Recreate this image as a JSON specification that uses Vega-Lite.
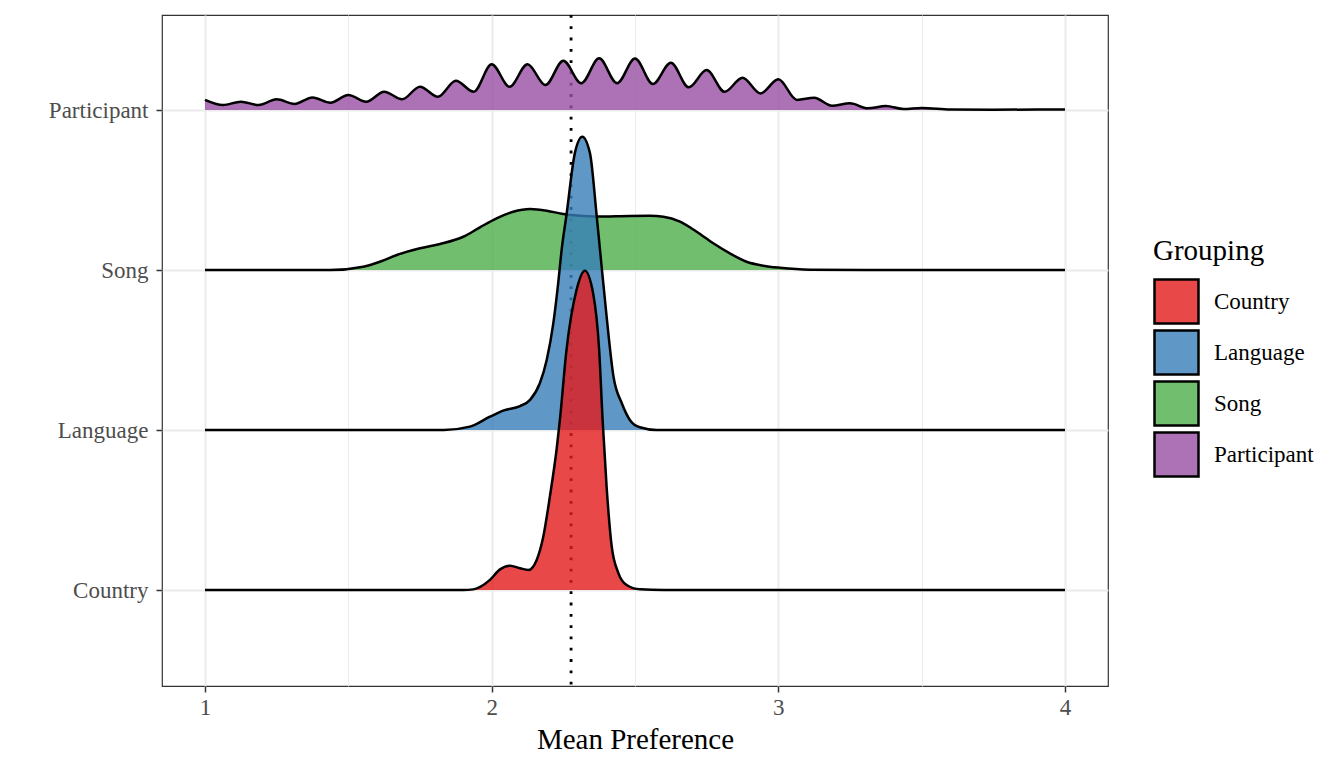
{
  "$schema": "https://vega.github.io/schema/vega-lite/v6.json",
  "autosize": {"type": "none"},
  "width": 946,
  "height": 671,
  "padding": {"left": 162, "top": 15, "right": 236, "bottom": 82},
  "background": "white",
  "config": {
    "view": {"stroke": "#333333", "strokeWidth": 1.2},
    "font": "Liberation Serif",
    "axis": {"domain": false, "labelFont": "Liberation Serif", "titleFont": "Liberation Serif"},
    "legend": {"labelFont": "Liberation Serif", "titleFont": "Liberation Serif"}
  },
  "datasets": {
    "ridges": [
      {"Grouping": "Country", "Mean Preference": 1.0, "Density": 1.0},
      {"Grouping": "Country", "Mean Preference": 1.9, "Density": 1.0},
      {"Grouping": "Country", "Mean Preference": 1.936, "Density": 1.004},
      {"Grouping": "Country", "Mean Preference": 1.994, "Density": 1.063},
      {"Grouping": "Country", "Mean Preference": 2.029, "Density": 1.129},
      {"Grouping": "Country", "Mean Preference": 2.064, "Density": 1.152},
      {"Grouping": "Country", "Mean Preference": 2.099, "Density": 1.136},
      {"Grouping": "Country", "Mean Preference": 2.128, "Density": 1.125},
      {"Grouping": "Country", "Mean Preference": 2.157, "Density": 1.188},
      {"Grouping": "Country", "Mean Preference": 2.18, "Density": 1.333},
      {"Grouping": "Country", "Mean Preference": 2.203, "Density": 1.583},
      {"Grouping": "Country", "Mean Preference": 2.227, "Density": 1.886},
      {"Grouping": "Country", "Mean Preference": 2.238, "Density": 2.063},
      {"Grouping": "Country", "Mean Preference": 2.261, "Density": 2.5},
      {"Grouping": "Country", "Mean Preference": 2.296, "Density": 2.875},
      {"Grouping": "Country", "Mean Preference": 2.325, "Density": 2.996},
      {"Grouping": "Country", "Mean Preference": 2.354, "Density": 2.854},
      {"Grouping": "Country", "Mean Preference": 2.375, "Density": 2.5},
      {"Grouping": "Country", "Mean Preference": 2.387, "Density": 2.063},
      {"Grouping": "Country", "Mean Preference": 2.401, "Density": 1.644},
      {"Grouping": "Country", "Mean Preference": 2.419, "Density": 1.269},
      {"Grouping": "Country", "Mean Preference": 2.442, "Density": 1.106},
      {"Grouping": "Country", "Mean Preference": 2.471, "Density": 1.031},
      {"Grouping": "Country", "Mean Preference": 2.517, "Density": 1.004},
      {"Grouping": "Country", "Mean Preference": 2.6, "Density": 1.0},
      {"Grouping": "Country", "Mean Preference": 4.0, "Density": 1.0},

      {"Grouping": "Language", "Mean Preference": 1.0, "Density": 2.0},
      {"Grouping": "Language", "Mean Preference": 1.834, "Density": 2.0},
      {"Grouping": "Language", "Mean Preference": 1.924, "Density": 2.021},
      {"Grouping": "Language", "Mean Preference": 1.994, "Density": 2.083},
      {"Grouping": "Language", "Mean Preference": 2.04, "Density": 2.121},
      {"Grouping": "Language", "Mean Preference": 2.099, "Density": 2.15},
      {"Grouping": "Language", "Mean Preference": 2.134, "Density": 2.188},
      {"Grouping": "Language", "Mean Preference": 2.168, "Density": 2.292},
      {"Grouping": "Language", "Mean Preference": 2.192, "Density": 2.438},
      {"Grouping": "Language", "Mean Preference": 2.215, "Density": 2.667},
      {"Grouping": "Language", "Mean Preference": 2.232, "Density": 2.917},
      {"Grouping": "Language", "Mean Preference": 2.244, "Density": 3.125},
      {"Grouping": "Language", "Mean Preference": 2.261, "Density": 3.344},
      {"Grouping": "Language", "Mean Preference": 2.29, "Density": 3.729},
      {"Grouping": "Language", "Mean Preference": 2.316, "Density": 3.833},
      {"Grouping": "Language", "Mean Preference": 2.343, "Density": 3.729},
      {"Grouping": "Language", "Mean Preference": 2.366, "Density": 3.344},
      {"Grouping": "Language", "Mean Preference": 2.378, "Density": 3.125},
      {"Grouping": "Language", "Mean Preference": 2.401, "Density": 2.708},
      {"Grouping": "Language", "Mean Preference": 2.425, "Density": 2.333},
      {"Grouping": "Language", "Mean Preference": 2.454, "Density": 2.167},
      {"Grouping": "Language", "Mean Preference": 2.482, "Density": 2.063},
      {"Grouping": "Language", "Mean Preference": 2.517, "Density": 2.017},
      {"Grouping": "Language", "Mean Preference": 2.575, "Density": 2.0},
      {"Grouping": "Language", "Mean Preference": 4.0, "Density": 2.0},

      {"Grouping": "Song", "Mean Preference": 1.0, "Density": 3.0},
      {"Grouping": "Song", "Mean Preference": 1.436, "Density": 3.0},
      {"Grouping": "Song", "Mean Preference": 1.552, "Density": 3.021},
      {"Grouping": "Song", "Mean Preference": 1.61, "Density": 3.052},
      {"Grouping": "Song", "Mean Preference": 1.669, "Density": 3.094},
      {"Grouping": "Song", "Mean Preference": 1.75, "Density": 3.136},
      {"Grouping": "Song", "Mean Preference": 1.82, "Density": 3.163},
      {"Grouping": "Song", "Mean Preference": 1.901, "Density": 3.208},
      {"Grouping": "Song", "Mean Preference": 1.959, "Density": 3.267},
      {"Grouping": "Song", "Mean Preference": 2.017, "Density": 3.323},
      {"Grouping": "Song", "Mean Preference": 2.075, "Density": 3.364},
      {"Grouping": "Song", "Mean Preference": 2.134, "Density": 3.381},
      {"Grouping": "Song", "Mean Preference": 2.192, "Density": 3.371},
      {"Grouping": "Song", "Mean Preference": 2.25, "Density": 3.35},
      {"Grouping": "Song", "Mean Preference": 2.308, "Density": 3.339},
      {"Grouping": "Song", "Mean Preference": 2.366, "Density": 3.334},
      {"Grouping": "Song", "Mean Preference": 2.482, "Density": 3.338},
      {"Grouping": "Song", "Mean Preference": 2.552, "Density": 3.339},
      {"Grouping": "Song", "Mean Preference": 2.599, "Density": 3.333},
      {"Grouping": "Song", "Mean Preference": 2.657, "Density": 3.302},
      {"Grouping": "Song", "Mean Preference": 2.715, "Density": 3.239},
      {"Grouping": "Song", "Mean Preference": 2.773, "Density": 3.167},
      {"Grouping": "Song", "Mean Preference": 2.831, "Density": 3.104},
      {"Grouping": "Song", "Mean Preference": 2.889, "Density": 3.052},
      {"Grouping": "Song", "Mean Preference": 2.948, "Density": 3.027},
      {"Grouping": "Song", "Mean Preference": 3.006, "Density": 3.014},
      {"Grouping": "Song", "Mean Preference": 3.11, "Density": 3.002},
      {"Grouping": "Song", "Mean Preference": 3.3, "Density": 3.0},
      {"Grouping": "Song", "Mean Preference": 4.0, "Density": 3.0},

      {"Grouping": "Participant", "Mean Preference": 1.0, "Density": 4.063},
      {"Grouping": "Participant", "Mean Preference": 1.0625, "Density": 4.031},
      {"Grouping": "Participant", "Mean Preference": 1.125, "Density": 4.052},
      {"Grouping": "Participant", "Mean Preference": 1.1875, "Density": 4.031},
      {"Grouping": "Participant", "Mean Preference": 1.25, "Density": 4.067},
      {"Grouping": "Participant", "Mean Preference": 1.3125, "Density": 4.038},
      {"Grouping": "Participant", "Mean Preference": 1.375, "Density": 4.079},
      {"Grouping": "Participant", "Mean Preference": 1.4375, "Density": 4.046},
      {"Grouping": "Participant", "Mean Preference": 1.5, "Density": 4.094},
      {"Grouping": "Participant", "Mean Preference": 1.5625, "Density": 4.052},
      {"Grouping": "Participant", "Mean Preference": 1.625, "Density": 4.114},
      {"Grouping": "Participant", "Mean Preference": 1.6875, "Density": 4.067},
      {"Grouping": "Participant", "Mean Preference": 1.75, "Density": 4.146},
      {"Grouping": "Participant", "Mean Preference": 1.8125, "Density": 4.083},
      {"Grouping": "Participant", "Mean Preference": 1.875, "Density": 4.183},
      {"Grouping": "Participant", "Mean Preference": 1.9375, "Density": 4.114},
      {"Grouping": "Participant", "Mean Preference": 2.0, "Density": 4.286},
      {"Grouping": "Participant", "Mean Preference": 2.0625, "Density": 4.146},
      {"Grouping": "Participant", "Mean Preference": 2.125, "Density": 4.286},
      {"Grouping": "Participant", "Mean Preference": 2.1875, "Density": 4.156},
      {"Grouping": "Participant", "Mean Preference": 2.25, "Density": 4.308},
      {"Grouping": "Participant", "Mean Preference": 2.3125, "Density": 4.167},
      {"Grouping": "Participant", "Mean Preference": 2.375, "Density": 4.323},
      {"Grouping": "Participant", "Mean Preference": 2.4375, "Density": 4.167},
      {"Grouping": "Participant", "Mean Preference": 2.5, "Density": 4.322},
      {"Grouping": "Participant", "Mean Preference": 2.5625, "Density": 4.163},
      {"Grouping": "Participant", "Mean Preference": 2.625, "Density": 4.296},
      {"Grouping": "Participant", "Mean Preference": 2.6875, "Density": 4.142},
      {"Grouping": "Participant", "Mean Preference": 2.75, "Density": 4.25},
      {"Grouping": "Participant", "Mean Preference": 2.8125, "Density": 4.114},
      {"Grouping": "Participant", "Mean Preference": 2.875, "Density": 4.202},
      {"Grouping": "Participant", "Mean Preference": 2.9375, "Density": 4.104},
      {"Grouping": "Participant", "Mean Preference": 3.0, "Density": 4.192},
      {"Grouping": "Participant", "Mean Preference": 3.065, "Density": 4.063},
      {"Grouping": "Participant", "Mean Preference": 3.125, "Density": 4.077},
      {"Grouping": "Participant", "Mean Preference": 3.1875, "Density": 4.027},
      {"Grouping": "Participant", "Mean Preference": 3.25, "Density": 4.042},
      {"Grouping": "Participant", "Mean Preference": 3.3125, "Density": 4.011},
      {"Grouping": "Participant", "Mean Preference": 3.375, "Density": 4.025},
      {"Grouping": "Participant", "Mean Preference": 3.4375, "Density": 4.006},
      {"Grouping": "Participant", "Mean Preference": 3.5, "Density": 4.013},
      {"Grouping": "Participant", "Mean Preference": 3.6, "Density": 4.004},
      {"Grouping": "Participant", "Mean Preference": 3.75, "Density": 4.002},
      {"Grouping": "Participant", "Mean Preference": 3.9, "Density": 4.003},
      {"Grouping": "Participant", "Mean Preference": 4.0, "Density": 4.004}
    ],
    "overall": [{"Mean Preference": 2.277}]
  },
  "encoding": {
    "x": {
      "field": "Mean Preference",
      "type": "quantitative",
      "scale": {"domain": [0.85, 4.15], "nice": false, "zero": false},
      "axis": {
        "values": [1, 1.5, 2, 2.5, 3, 3.5, 4],
        "labelExpr": "datum.value % 1 == 0 ? format(datum.value, 'd') : ''",
        "title": "Mean Preference",
        "titleFontSize": 29,
        "titleFontWeight": "normal",
        "titleColor": "black",
        "titlePadding": 6,
        "labelFontSize": 23,
        "labelColor": "#4D4D4D",
        "labelPadding": 4,
        "tickColor": "#333333",
        "tickWidth": 1.5,
        "tickSize": 6,
        "tickOpacity": {"condition": {"test": "datum.value % 1 != 0", "value": 0}, "value": 1},
        "grid": true,
        "gridColor": "#EBEBEB",
        "gridWidth": {"condition": {"test": "datum.value % 1 != 0", "value": 1}, "value": 2}
      }
    },
    "y": {
      "field": "Density",
      "type": "quantitative",
      "scale": {"domain": [0.4, 4.594], "nice": false, "zero": false},
      "axis": {
        "values": [1, 2, 3, 4],
        "labelExpr": "datum.value == 1 ? 'Country' : datum.value == 2 ? 'Language' : datum.value == 3 ? 'Song' : 'Participant'",
        "title": null,
        "labelFontSize": 23,
        "labelColor": "#4D4D4D",
        "labelPadding": 8,
        "tickColor": "#333333",
        "tickWidth": 1.5,
        "tickSize": 6,
        "grid": true,
        "gridColor": "#EBEBEB",
        "gridWidth": 2
      }
    }
  },
  "layer": [
    {
      "data": {"name": "overall"},
      "mark": {"type": "rule", "color": "black", "strokeWidth": 2.8, "strokeDash": [2.8, 8.5]},
      "encoding": {"x": {"field": "Mean Preference", "type": "quantitative"}, "y": null}
    },
    {
      "data": {"name": "ridges"},
      "transform": [{"filter": "datum.Grouping == 'Participant'"}],
      "layer": [
        {"mark": {"type": "area", "interpolate": "monotone", "fillOpacity": 0.8}, "encoding": {"y2": {"datum": 4}, "color": {"field": "Grouping", "type": "nominal"}}},
        {"mark": {"type": "line", "interpolate": "monotone", "color": "black", "strokeWidth": 2.5}, "encoding": {}}
      ]
    },
    {
      "data": {"name": "ridges"},
      "transform": [{"filter": "datum.Grouping == 'Song'"}],
      "layer": [
        {"mark": {"type": "area", "interpolate": "monotone", "fillOpacity": 0.8}, "encoding": {"y2": {"datum": 3}, "color": {"field": "Grouping", "type": "nominal"}}},
        {"mark": {"type": "line", "interpolate": "monotone", "color": "black", "strokeWidth": 2.5}, "encoding": {}}
      ]
    },
    {
      "data": {"name": "ridges"},
      "transform": [{"filter": "datum.Grouping == 'Language'"}],
      "layer": [
        {"mark": {"type": "area", "interpolate": "monotone", "fillOpacity": 0.8}, "encoding": {"y2": {"datum": 2}, "color": {"field": "Grouping", "type": "nominal"}}},
        {"mark": {"type": "line", "interpolate": "monotone", "color": "black", "strokeWidth": 2.5}, "encoding": {}}
      ]
    },
    {
      "data": {"name": "ridges"},
      "transform": [{"filter": "datum.Grouping == 'Country'"}],
      "layer": [
        {
          "mark": {"type": "area", "interpolate": "monotone", "fillOpacity": 0.8},
          "encoding": {
            "y2": {"datum": 1},
            "color": {
              "field": "Grouping",
              "type": "nominal",
              "scale": {
                "domain": ["Country", "Language", "Song", "Participant"],
                "range": ["#E41A1C", "#377EB8", "#4DAF4A", "#984EA3"]
              },
              "legend": {
                "orient": "none",
                "legendX": 991,
                "legendY": 222,
                "title": "Grouping",
                "titleFontSize": 29,
                "titleFontWeight": "normal",
                "titleColor": "black",
                "titlePadding": 12,
                "labelFontSize": 23,
                "labelColor": "black",
                "labelOffset": 14,
                "symbolType": "square",
                "symbolSize": 1936,
                "symbolStrokeColor": "black",
                "symbolStrokeWidth": 2.5,
                "rowPadding": -9,
                "padding": 0,
                "encode": {
                  "symbols": {
                    "update": {
                      "stroke": {"value": "black"},
                      "strokeWidth": {"value": 2.5},
                      "fillOpacity": {"value": 0.8},
                      "opacity": {"value": 1}
                    }
                  }
                }
              }
            }
          }
        },
        {"mark": {"type": "line", "interpolate": "monotone", "color": "black", "strokeWidth": 2.5}, "encoding": {}}
      ]
    }
  ]
}
